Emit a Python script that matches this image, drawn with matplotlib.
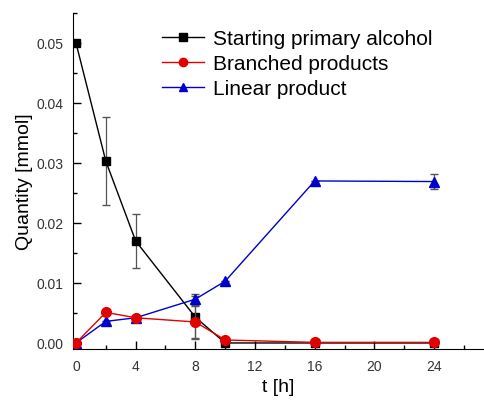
import matplotlib
matplotlib.use("Agg")
import matplotlib.pyplot as plt
from matplotlib.ticker import MultipleLocator
from matplotlib.lines import Line2D

plt.rcParams['font.family'] = ['Liberation Sans', 'DejaVu Sans']

# time points [h]
t = [0, 2, 4, 8, 10, 16, 24]

alcohol = [0.050, 0.0303, 0.0170, 0.0043, 0.0000, 0.0000, 0.0000]
alcohol_err = [0, 0.0073, 0.0045, 0.0036, 0, 0, 0]

branched = [0.0000, 0.0051, 0.0042, 0.0035, 0.0005, 0.0001, 0.0001]
branched_err = [0, 0, 0, 0.0027, 0, 0, 0]

linear = [0.0000, 0.0036, 0.0042, 0.0073, 0.0103, 0.0270, 0.0269]
linear_err = [0, 0, 0, 0.0009, 0, 0, 0.0013]

labels = ['Starting primary alcohol', 'Branched products', 'Linear product']
colors = ['black', '#e00000', '#0000cc']
markers = ['s', 'o', '^']

fig = plt.figure(figsize=(4.85, 4.02), dpi=100)
ax = fig.add_axes([0.1505, 0.1294, 0.846, 0.836])

ax.errorbar(t, alcohol, yerr=alcohol_err, color=colors[0], marker='s', ms=6,
            lw=1, ecolor='#555555', elinewidth=0.9, capsize=3, zorder=3)
ax.errorbar(t, linear, yerr=linear_err, color=colors[2], marker='^', ms=7,
            lw=1, ecolor='#555555', elinewidth=0.9, capsize=3, zorder=3)
ax.errorbar(t, branched, yerr=branched_err, color=colors[1], marker='o', ms=7,
            lw=1, ecolor='#555555', elinewidth=0.9, capsize=3, zorder=4)

ax.set_xlim(-0.2, 27.3)
ax.set_ylim(-0.001, 0.055)
ax.xaxis.set_major_locator(MultipleLocator(4))
ax.xaxis.set_minor_locator(MultipleLocator(2))
ax.yaxis.set_major_locator(MultipleLocator(0.01))
ax.yaxis.set_minor_locator(MultipleLocator(0.005))
ax.yaxis.set_major_formatter(plt.FormatStrFormatter('%.2f'))

ax.tick_params(which='major', direction='in', length=6, width=1, pad=7,
               labelsize=10, labelcolor='#333333')
ax.tick_params(which='minor', direction='in', length=3, width=1)
ax.spines['top'].set_visible(False)
ax.spines['right'].set_visible(False)

ax.set_xlabel('t [h]', fontsize=14, labelpad=4)
ax.set_ylabel('Quantity [mmol]', fontsize=14, labelpad=2)

handles = [Line2D([], [], color=c, marker=m, ms=6, lw=1) for c, m in zip(colors, markers)]
ax.legend(handles, labels, loc='upper left',
          bbox_to_anchor=(0.172, 1.008), frameon=False, fontsize=15,
          handlelength=2.0, labelspacing=0.3, handletextpad=0.45)

fig.savefig('out.png', dpi=100)
